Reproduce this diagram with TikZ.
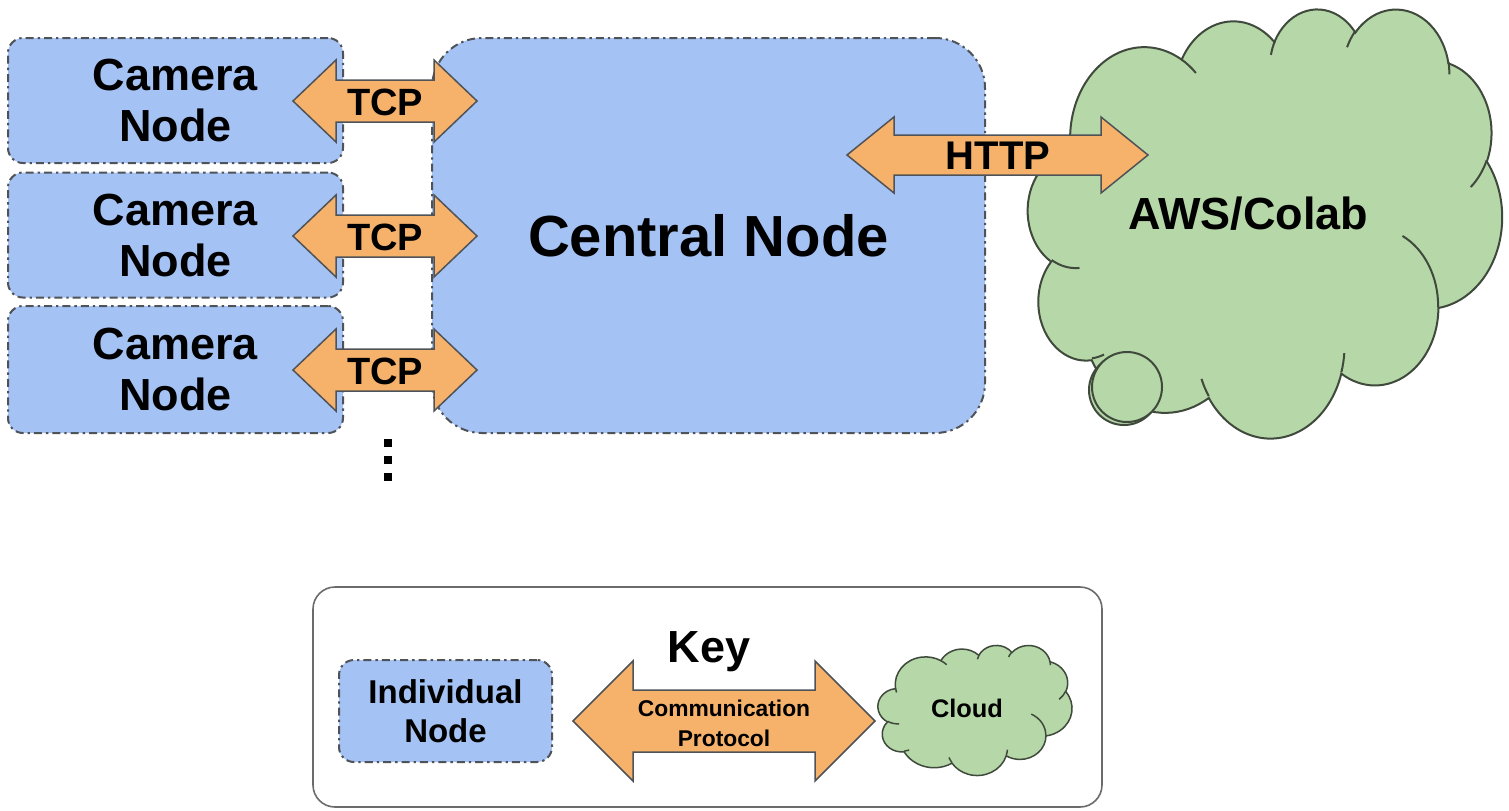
\documentclass[tikz,border=0pt]{standalone}
\usepackage{fontspec}
\setmainfont{Liberation Sans}
\definecolor{nodeblue}{HTML}{A4C2F4}
\definecolor{arroworange}{HTML}{F6B26B}
\definecolor{cloudgreen}{HTML}{B6D7A8}
\definecolor{edgegray}{HTML}{4F5357}
\definecolor{cloudedge}{HTML}{3F4A3C}
\definecolor{keyedge}{HTML}{6B6B6B}
\tikzset{
  dashdotborder/.style={draw=edgegray, line width=1pt, dash pattern=on 4pt off 2pt on 1.2pt off 2pt},
  nodebox/.style={dashdotborder, fill=nodeblue, rectangle, inner sep=0pt, align=center},
  arrowbody/.style={draw=edgegray, fill=arroworange, line width=0.75pt, line join=miter},
  cloudbody/.style={draw=cloudedge, fill=cloudgreen, line width=1pt},
  cloudline/.style={draw=cloudedge, line width=1pt},
  lbl/.style={inner sep=0pt, align=center},
}
% block double arrow: x1, x2, yc, half height, shaft half height, head length
\newcommand\blockarrow[6]{%
  \draw[arrowbody] (#1,#3) -- ++(#6,-#4) -- ++(0,#4-#5) -- (#2-#6,#3-#5)
    -- ++(0,#5-#4) -- (#2,#3) -- (#2-#6,#3+#4) -- ++(0,#5-#4)
    -- (#1+#6,#3+#5) -- ++(0,#4-#5) -- cycle;}
% cloud outline in a 432 x 432 frame (y downward)
\newcommand\drawcloud[1]{%
  \path[cloudbody,line width=#1] (39.00,143.70)
    arc[start angle=-187.745, end angle=-59.64, x radius=67.53, y radius=91.90]
    arc[start angle=-152.02, end angle=-45.42, x radius=53.33, y radius=72.67]
    arc[start angle=-153.49, end angle=-37.32, x radius=43.65, y radius=59.45]
    arc[start angle=-139.70, end angle=-10.21, x radius=48.57, y radius=65.95]
    arc[start angle=-74.77, end angle=23.21, x radius=53.33, y radius=72.73]
    arc[start angle=-37.52, end angle=81.86, x radius=67.75, y radius=92.20]
    arc[start angle=0.4596, end angle=121.98, x radius=57.85, y radius=78.67]
    arc[start angle=16.85, end angle=146.24, x radius=67.52, y radius=92.15]
    arc[start angle=59.00, end angle=150.20, x radius=77.20, y radius=105.43]
    arc[start angle=-276.69, end angle=-136.89, x radius=43.60, y radius=59.18]
    arc[start angle=-239.65, end angle=-95.89, x radius=43.45, y radius=59.45]
    -- cycle;
  \foreach \px/\py/\ra/\rb/\sa/\sw in {
      46.93/261.77/43.45/59.45/86.742/26.430,
      69.28/348.99/43.60/59.18/73.610/11.447,
      164.78/390.90/67.52/92.15/137.624/14.081,
      288.27/347.51/67.52/92.15/6.453/15.998,
      341.29/229.54/57.85/78.67/-70.292/70.917,
      417.98/153.54/53.33/72.73/30.318/27.752,
      383.24/54.26/48.57/65.95/-13.744/14.859,
      290.78/39.52/48.57/65.95/-149.181/18.195,
      221.41/47.20/43.65/59.45/-163.494/17.686,
      140.00/51.92/67.53/91.90/-66.707/12.319,
      41.27/157.89/67.53/91.90/157.654/11.858}{%
    \pgfmathsetmacro\tA{atan2(\ra*sin(\sa),\rb*cos(\sa))}
    \pgfmathsetmacro\tB{atan2(\ra*sin(\sa+\sw),\rb*cos(\sa+\sw))}
    \pgfmathsetmacro\tB{\tB+360*(\tB<\tA)}
    \draw[cloudline,line width=#1] (\px,\py) arc[start angle=\tA, end angle=\tB, x radius=\ra, y radius=\rb];
  }}
\begin{document}
\begin{tikzpicture}[x=0.5pt,y=-0.5pt]
\useasboundingbox (0,0) rectangle (1509,810);

% central node
\node[nodebox, rounded corners=25pt, minimum width=276.5pt, minimum height=197.5pt,
  font=\bfseries\fontsize{29}{33}\selectfont] (central) at (708.5,235.5) {Central Node};

% camera nodes
\node[nodebox, rounded corners=7.5pt, minimum width=167.5pt, minimum height=62.5pt,
  font=\bfseries\fontsize{22.5}{25.5}\selectfont] (cam1) at (175.5,100.5) {Camera\\Node};
\node[nodebox, rounded corners=7.5pt, minimum width=167.5pt, minimum height=62.5pt,
  font=\bfseries\fontsize{22.5}{25.5}\selectfont] (cam2) at (175.5,235) {Camera\\Node};
\node[nodebox, rounded corners=7.5pt, minimum width=167.5pt, minimum height=63.5pt,
  font=\bfseries\fontsize{22.5}{25.5}\selectfont] (cam3) at (175.5,369.5) {Camera\\Node};

% big cloud
\begin{scope}[shift={(1028,8)}, x=0.5486pt, y=-0.4965pt]
  \drawcloud{1pt}
\end{scope}
\draw[cloudbody] (1124,390) circle[radius=35];
\draw[cloudbody] (1127,387) circle[radius=35];
\node[lbl, font=\bfseries\fontsize{22.5}{25.5}\selectfont] (aws) at (1248,214) {AWS/Colab};

% TCP arrows
\blockarrow{293}{477}{101}{41}{21}{43}
\node[lbl, font=\bfseries\fontsize{19}{22}\selectfont] (tcp1) at (385,102) {TCP};
\blockarrow{293}{477}{236}{41}{21}{43}
\node[lbl, font=\bfseries\fontsize{19}{22}\selectfont] (tcp2) at (385,237) {TCP};
\blockarrow{293}{477}{370}{41}{21}{43}
\node[lbl, font=\bfseries\fontsize{19}{22}\selectfont] (tcp3) at (385,371) {TCP};

% HTTP arrow
\blockarrow{847}{1148}{155}{38}{20}{47}
\node[lbl, font=\bfseries\fontsize{20}{23}\selectfont] (http) at (998,156) {HTTP};

% ellipsis dots
\fill[black] (384,439) rectangle (392,447);
\fill[black] (384,456) rectangle (392,464);
\fill[black] (384,473) rectangle (392,481);

% key
\node[draw=keyedge, line width=0.8pt, fill=white, rounded corners=11pt, minimum width=394.5pt,
  minimum height=110pt, inner sep=0pt] (keybox) at (707.5,697) {};
\node[lbl, font=\bfseries\fontsize{22.5}{25.5}\selectfont] (keytitle) at (709,652) {Key};
\node[nodebox, rounded corners=7.5pt, minimum width=106.5pt, minimum height=51pt,
  font=\bfseries\fontsize{16.5}{19.5}\selectfont] (indiv) at (445.5,711) {Individual\\Node};
\blockarrow{573}{875}{721}{60}{31}{60}
\node[lbl, font=\bfseries\fontsize{11.4}{15}\selectfont] (proto) at (724,723) {Communication\\Protocol};
\begin{scope}[shift={(878,645)}, x=0.2245pt, y=-0.1505pt]
  \drawcloud{0.75pt}
\end{scope}
\node[lbl, font=\bfseries\fontsize{12.7}{15}\selectfont] (cloudlbl) at (967,708) {Cloud};
\end{tikzpicture}
\end{document}
